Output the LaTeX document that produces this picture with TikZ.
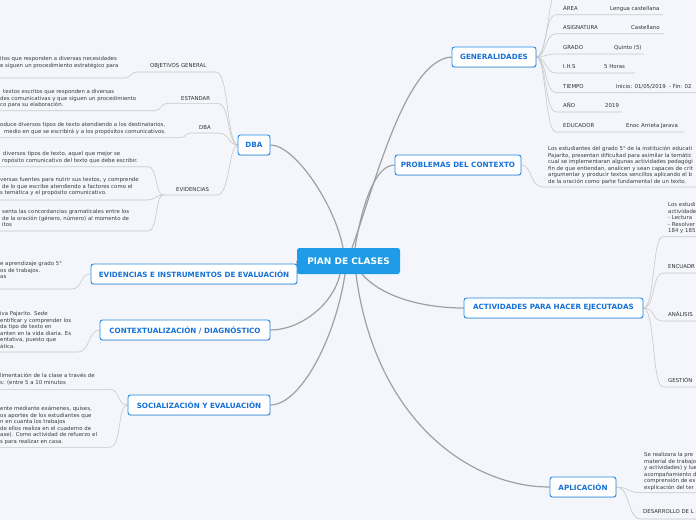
\documentclass[tikz,border=0pt]{standalone}
\usepackage{fontspec}
\setmainfont{DejaVu Sans}
\usetikzlibrary{shadows,backgrounds}
\definecolor{bg}{RGB}{244,246,251}
\definecolor{boxblue}{RGB}{33,136,229}
\definecolor{txtblue}{RGB}{22,113,214}
\definecolor{rootblue}{RGB}{30,155,230}
\definecolor{maingray}{RGB}{160,160,160}
\definecolor{subgray}{RGB}{200,200,200}
\definecolor{textgray}{RGB}{60,60,60}
\definecolor{labelgray}{RGB}{50,50,50}
\tikzset{
  topic/.style={draw=boxblue, line width=0.9pt, fill=white, rounded corners=2.5pt, text=txtblue,
    font=\fontsize{7.2}{8}\selectfont\bfseries, minimum height=20pt, inner sep=0pt,
    drop shadow={shadow xshift=0.4pt, shadow yshift=-0.8pt, opacity=0.25, fill=gray}},
  rootbox/.style={fill=rootblue, rounded corners=2.5pt, text=white,
    font=\fontsize{9}{10}\selectfont\bfseries, minimum width=103pt, minimum height=26pt, inner sep=0pt},
  lbl/.style={font=\fontsize{5.4}{6.5}\selectfont, text=labelgray, inner sep=0pt, anchor=base west},
  blk/.style={font=\fontsize{5.4}{6.5}\selectfont, text=textgray, align=left, inner sep=0pt, anchor=base west},
  mainc/.style={draw=maingray, line width=1.2pt},
  subc/.style={draw=subgray, line width=0.6pt},
}
\newcommand{\genitem}[7]{%
  \node[lbl] (#1l) at (563,#2) {#3};
  \node[lbl] (#1v) at (#4,#2) {#5};
  \coordinate (#1s) at (556,#6);
  \coordinate (#1e) at (#7,#6);
  \begin{pgfonlayer}{background}
  \draw[subc] (gen.east) .. controls (546,57) and (545,#6) .. (#1s) -- (#1e);
  \end{pgfonlayer}}
\begin{document}
\begin{tikzpicture}[x=1pt,y=-1pt]
\useasboundingbox (0,0) rectangle (696,520);
\begin{pgfonlayer}{background}
\fill[bg] (0,0) rectangle (696,520);
\end{pgfonlayer}
\clip (0,0) rectangle (696,520);

% main topics
\node[rootbox] (root) at (348.5,261) {PlAN DE CLASES};
\node[topic, minimum width=32pt] (dba) at (254,145) {DBA};
\node[topic, minimum width=206pt] (evid) at (194,274) {EVIDENCIAS E INSTRUMENTOS DE EVALUACIÓN};
\node[topic, minimum width=170pt] (ctx) at (185,330) {CONTEXTUALIZACIÓN / DIAGNÓSTICO};
\node[topic, minimum width=142pt] (soc) at (199,405) {SOCIALIZACIÓN Y EVALUACIÓN};
\node[topic, minimum width=84pt] (gen) at (494,57) {GENERALIDADES};
\node[topic, minimum width=126pt] (prob) at (458,165) {PROBLEMAS DEL CONTEXTO};
\node[topic, minimum width=179pt] (act) at (553.5,308) {ACTIVIDADES PARA HACER EJECUTADAS};
\node[topic, minimum width=66pt] (apl) at (583,487) {APLICACIÓN};

% DBA children labels
\node[lbl] (lobj) at (150,67.4) {OBJETIVOS GENERAL};
\node[lbl] (lest) at (181,100.7) {ESTANDAR};
\node[lbl] (ldba) at (199,129.7) {DBA};
\node[lbl] (levi) at (176,191.7) {EVIDENCIAS};

% left text blocks (anchor = baseline of the last line)
\node[blk] (t1) at (0,67.1) {itos que responden a diversas necesidades\\e siguen un procedimiento estratégico para};
\node[blk] (t2) at (0,106.9) {\hspace*{3pt}textos escritos que responden a diversas\\des comunicativas y que siguen un procedimiento\\co para su elaboración.};
\node[blk] (t3) at (0,133.1) {oduce diversos tipos de texto atendiendo a los destinatarios,\\\hspace*{4pt}medio en que se escribirá y a los propósitos comunicativos.};
\node[blk] (t4) at (0,162.1) {\hspace*{3pt}diversos tipos de texto, aquel que mejor se\\\hspace*{2pt}ropósito comunicativo del texto que debe escribir.};
\node[blk] (t5) at (0,194.6) {versas fuentes para nutrir sus textos, y comprende\\\hspace*{2pt}de lo que escribe atendiendo a factores como el\\s temática y el propósito comunicativo.};
\node[blk] (t6) at (0,226.9) {\hspace*{2pt}senta las concordancias gramaticales entre los\\\hspace*{2pt}de la oración (género, número) al momento de\\\hspace*{2pt}itos};
\node[blk] (t7) at (0,278.6) {e aprendizaje grado 5°\\os de trabajos.\\as};
\node[blk] (t8) at (0,348.1) {iva Pajarito. Sede\\entificar y comprender los\\da tipo de texto en\\anten en la vida diaria. Es\\entativa, puesto que\\ática.};
\node[blk] (t9) at (0,384.5) {limentación de la clase a través de\\[1pt]s: (entre 5 a 10 minutos};
\node[blk] (t10) at (0,443.4) {ente mediante exámenes, quises,\\os aportes de los estudiantes que\\n en cuanta los trabajos\\de ellos realiza en el cuaderno de\\ase). Como actividad de refuerzo el\\s para realizar en casa.};

% right side texts
\node[blk] (t11) at (548,183.1) {Los estudiantes del grado 5° de la institución educati\\Pajarito, presentan dificultad para asimilar la temátic\\cual se implementaran algunas actividades pedagógi\\fin de que entiendan, analicen y sean capaces de crit\\argumentar y producir textos sencillos aplicando el b\\de la oración como parte fundamental de un texto.};
\node[blk] (t12) at (668,232.5) {Los estudi\\actividade\\- Lectura\\- Resolver\\184 y 185};
\node[lbl] (lenc) at (668,268.8) {ENCUADR};
\node[lbl] (lana) at (668,316.8) {ANÁLISIS};
\node[lbl] (lges) at (668,382.8) {GESTIÓN};
\node[blk] (t13) at (644,489.1) {Se realizara la pre\\material de trabajo\\y actividades) y lue\\acompañamiento d\\comprensión de es\\explicación del ter};
\node[lbl] (ldes) at (643,513.8) {DESARROLLO DE L};

% generalidades items
\genitem{ga}{10.9}{ÁREA}{610}{Lengua castellana}{14.7}{663}
\genitem{gb}{29.9}{ASIGNATURA}{631}{Castellano}{33.7}{664}
\genitem{gc}{49.9}{GRADO}{614}{Quinto (5)}{54}{644}
\genitem{gd}{68.9}{I.H.S}{604}{5 Horas}{73}{635}
\genitem{ge}{88.9}{TIEMPO}{616}{Inicio: 01/05/2019 \ - Fin: 02}{92.7}{700}
\genitem{gf}{107.9}{AÑO}{605}{2019}{112}{622}
\genitem{gg}{127.9}{EDUCADOR}{626}{Enoc Arrieta Jarava}{132}{684}
\coordinate (gtop) at (553,-6);

\begin{pgfonlayer}{background}
% main connectors
\draw[mainc] ([xshift=-5.5pt]root.north) .. controls (335,205) and (295,145) .. (dba.east);
\draw[mainc] ([xshift=3.5pt]root.north) .. controls (375,185) and (405,60) .. (gen.west);
\draw[mainc] ([xshift=6.5pt]root.north) .. controls (362,205) and (375,165) .. (prob.west);
\draw[mainc] (root.west) -- (evid.east);
\draw[mainc] ([xshift=-8.5pt]root.south) .. controls (333,305) and (300,330) .. (ctx.east);
\draw[mainc] ([xshift=-3.5pt]root.south) .. controls (335,340) and (300,405) .. (soc.east);
\draw[mainc] ([xshift=13.5pt]root.south) .. controls (385,300) and (430,308) .. (act.west);
\draw[mainc] ([xshift=7.5pt]root.south) .. controls (375,420) and (470,487) .. (apl.west);

% DBA branch
\draw[subc] (dba.west) .. controls (226,140) and (229,72) .. (216,72) -- (137,72) .. controls (131,72) and (131,78) .. (125,78) -- (0,78);
\draw[subc] (dba.west) .. controls (227,143) and (230,103.3) .. (218,103.3) -- (167,103.3) .. controls (161,103.3) and (161,110.7) .. (155,110.7) -- (0,110.7);
\draw[subc] (dba.west) .. controls (228,145) and (230,133) .. (218,133) -- (190,133) .. controls (186,133) and (185,137.3) .. (182,137.3) -- (0,137.3);
\draw[subc] (dba.west) .. controls (228,148) and (230,195) .. (217,195) -- (163,195);
\draw[subc] (163,195) .. controls (155,195) and (158,166.7) .. (148,166.7) -- (0,166.7);
\draw[subc] (163,195) .. controls (156,195) and (155,200) .. (148,200) -- (0,200);
\draw[subc] (163,195) .. controls (155,195) and (158,231) .. (148,231) -- (0,231);
% left topics
\draw[subc] (evid.west) .. controls (80,274) and (82,289) .. (72,289) -- (0,289);
\draw[subc] (ctx.west) .. controls (88,330) and (90,352) .. (78,352) -- (0,352);
\draw[subc] (soc.west) .. controls (117,405) and (120,389.3) .. (110,389.3) -- (0,389.3);
\draw[subc] (soc.west) .. controls (117,405) and (122,447.3) .. (110,447.3) -- (0,447.3);
% right topics
\draw[subc] (gen.east) .. controls (546,57) and (548,12) .. (gtop);
\draw[subc] (prob.east) .. controls (532,165) and (530,187) .. (543,187) -- (700,187);
\foreach \yy in {236.7,273,321,387}{
  \draw[subc] (act.east) .. controls (655,308) and (652,\yy) .. (663,\yy) -- (700,\yy);
}
\draw[subc] (apl.east) .. controls (628,487) and (628,492.7) .. (640,492.7) -- (700,492.7);
\draw[subc] (apl.east) .. controls (630,487) and (628,519) .. (640,519) -- (700,519);
\end{pgfonlayer}
\end{tikzpicture}
\end{document}
